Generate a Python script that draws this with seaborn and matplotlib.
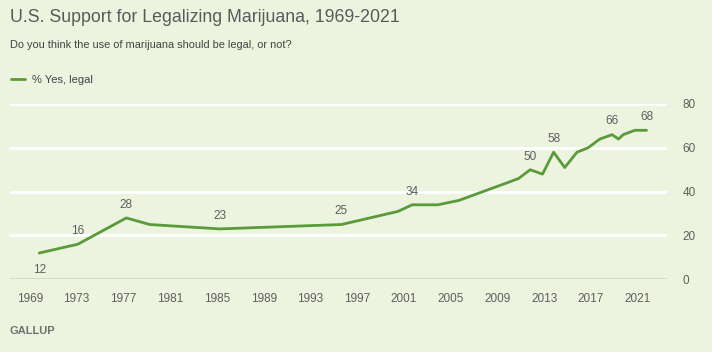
import matplotlib
matplotlib.use("Agg")
import matplotlib.pyplot as plt
import seaborn as sns
import pandas as pd

# ---- data ----
years = [1969.8, 1973.1, 1977.25, 1979.25, 1985.25, 1995.65, 2000.5, 2001.7,
         2003.9, 2005.7, 2009.8, 2010.8, 2011.8, 2012.85, 2013.8, 2014.75,
         2015.8, 2016.75, 2017.75, 2018.8, 2019.35, 2019.75, 2020.75, 2021.75]
values = [12, 16, 28, 25, 23, 25, 31, 34, 34, 36, 44, 46, 50, 48, 58, 51,
          58, 60, 64, 66, 64, 66, 68, 68]
labeled_years = [1969.8, 1973.1, 1977.25, 1985.25, 1995.65, 2001.7, 2011.8,
                 2013.8, 2018.8, 2021.75]
label_below = [1969.8]
x_ticks = list(range(1969, 2022, 4))
y_ticks = [0, 20, 40, 60, 80]
series_name = "% Yes, legal"

title = "U.S. Support for Legalizing Marijuana, 1969-2021"
subtitle = "Do you think the use of marijuana should be legal, or not?"
source = "GALLUP"

# ---- style ----
BG = "#ECF3DF"
LINE = "#5A9A3A"
TXT = "#5f5f5f"

sns.set_style("white")
plt.rcParams["font.family"] = ["Liberation Sans", "DejaVu Sans"]

df = pd.DataFrame({"year": years, "value": values})

fig = plt.figure(figsize=(7.12, 3.52), dpi=100, facecolor=BG)
ax = fig.add_axes([10 / 712, 1 - 279.3 / 352, (667 - 10) / 712, (279.3 - 104) / 352])
ax.set_facecolor(BG)

sns.lineplot(data=df, x="year", y="value", ax=ax, color=LINE, linewidth=2,
             label=series_name, legend=False)

ax.set_xlim(1967.3, 2023.5)
ax.set_ylim(0, 80)

for s in ax.spines.values():
    s.set_visible(False)

for yv in y_ticks:
    ax.axhline(yv, color="#D6DCCD" if yv == 0 else "white", linewidth=2 if yv else 1.5,
               zorder=0.5)

ax.set_xticks(x_ticks)
ax.set_xticklabels([str(t) for t in x_ticks])
ax.set_yticks(y_ticks)
ax.yaxis.tick_right()
ax.tick_params(axis="x", direction="out", length=8, width=1.5, color="white",
               labelsize=8.5, labelcolor=TXT, pad=2)
ax.tick_params(axis="y", length=0, labelsize=8.5, labelcolor=TXT, pad=11)
ax.set_xlabel("")
ax.set_ylabel("")

for x, v in zip(years, values):
    if x in labeled_years:
        below = x in label_below
        ax.annotate(str(v), (x, v), xytext=(0, -12.5 if below else 9.5),
                    textcoords="offset points", ha="center", va="center",
                    fontsize=8.5, color=TXT)

fig.text(10 / 712, 1 - 18 / 352, title, fontsize=12.8, color="#5a5a5a",
         ha="left", va="center")
fig.text(10 / 712, 1 - 45 / 352, subtitle, fontsize=7.9, color="#444444",
         ha="left", va="center")
fig.text(10 / 712, 1 - 331 / 352, source, fontsize=8, color="#707070",
         ha="left", va="center", fontweight="bold")

handles, labels = ax.get_legend_handles_labels()
fig.legend(handles, labels, loc="center left", bbox_to_anchor=(0.009, 1 - 80 / 352),
           frameon=False, fontsize=8, handlelength=1.3, handletextpad=0.6,
           labelcolor="#444444", borderaxespad=0)

fig.savefig("out.png", dpi=100, facecolor=BG)
